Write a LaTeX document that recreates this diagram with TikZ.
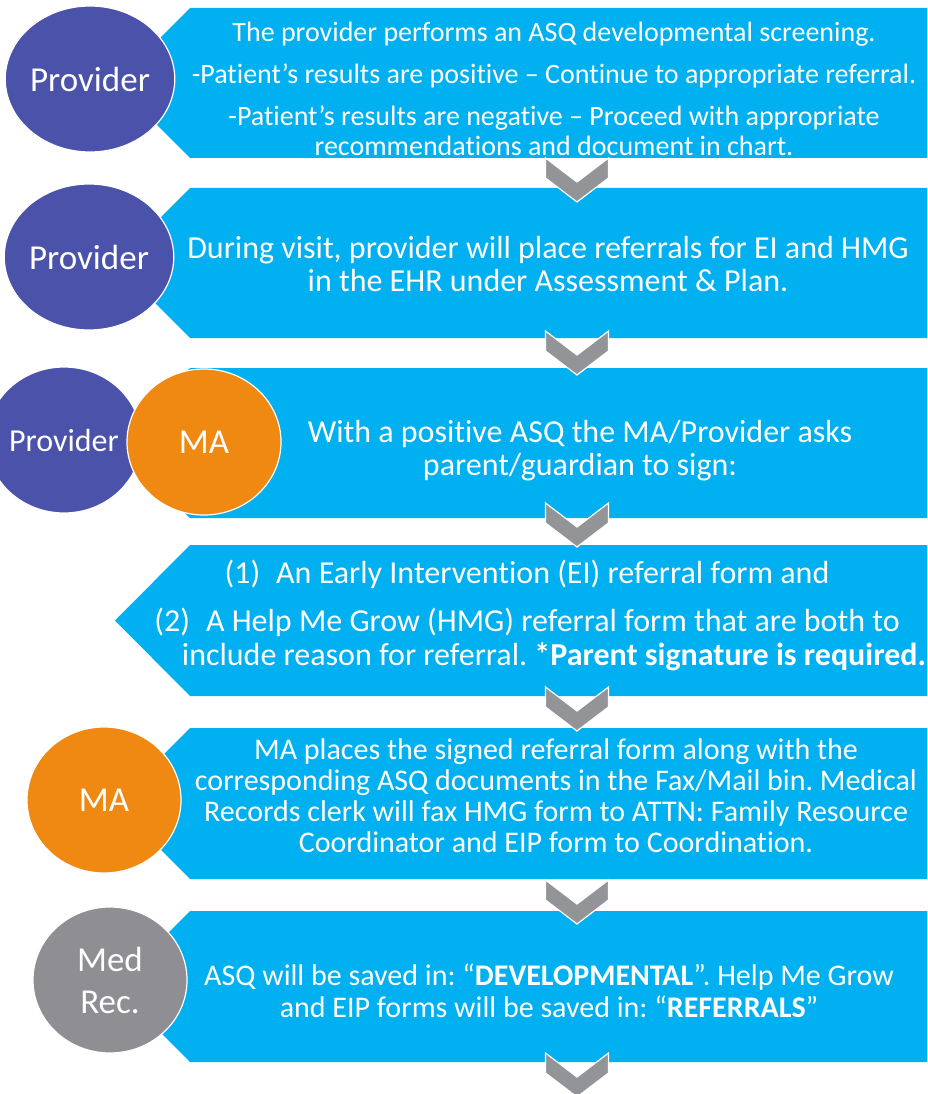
\documentclass[tikz,border=0pt]{standalone}
\usepackage{fontspec}
\setmainfont{Carlito}[Ligatures=NoCommon]
\usepackage{tikz}
\usetikzlibrary{shapes.geometric}
\frenchspacing
\definecolor{stepblue}{RGB}{0,176,240}
\definecolor{provider}{RGB}{74,82,170}
\definecolor{medassist}{RGB}{240,137,18}
\definecolor{medrec}{RGB}{143,142,147}
\definecolor{chevgray}{RGB}{147,148,152}
\newcommand{\band}[2]{\fill[stepblue] (190,#1)--(927,#1)--(927,#2)--(190,#2)--(115,{(#1+#2)/2})--cycle;}
\newcommand{\chevdown}[1]{\filldraw[fill=chevgray,draw=white,line width=1.2pt] (#1) ++(-31.5,0)--++(0,20)--++(31.5,24)--++(31.5,-24)--++(0,-20)--++(-31.5,24)--cycle;}
\tikzset{
  role/.style={ellipse,minimum width=154pt,minimum height=146pt,inner sep=0pt,draw=white,line width=1.2pt,text=white,align=center,font=\fontsize{35}{42}\selectfont},
  steptext/.style={text=white,align=center,inner sep=0pt,font=\fontsize{28}{30}\selectfont},
  bigtext/.style={steptext,font=\fontsize{32}{33}\selectfont},
  midtext/.style={steptext,font=\fontsize{30}{31}\selectfont}
}

\begin{document}
\begin{tikzpicture}[x=1pt,y=-1pt]
\useasboundingbox (0,0) rectangle (927,1094);
\band{8}{158}\band{188}{338}\band{368}{518}\band{545}{696}\band{728}{879}\band{911}{1062}
\foreach \y [count=\i] in {158,331,503,687,880,1053}{
  \coordinate (down\i) at (577,\y);
  \chevdown{down\i}
}
\node[role,fill=provider] (prov1) at (90,79) {Provider};
\node[role,fill=provider] (prov2) at (89,257) {Provider};
\node[role,fill=provider,font=\fontsize{32}{38}\selectfont] (prov3) at (64,440) {Provider};
\node[role,fill=medassist] (ma3) at (204,442) {MA};
\node[role,fill=medassist] (ma5) at (104,800) {MA};
\node[role,fill=medrec] (rec6) at (110,980) {Med\\Rec.};
\node[steptext] (txt1) at (554,89) {The provider performs an ASQ developmental screening.\\[12pt]
  -Patient’s results are positive – Continue to appropriate referral.\\[12pt]
  -Patient’s results are negative – Proceed with appropriate\\
  recommendations and document in chart.};
\node[bigtext] (txt2) at (548,264) {During visit, provider will place referrals for EI and HMG\\
  in the EHR under Assessment \& Plan.};
\node[bigtext] (txt3) at (580,451) {With a positive ASQ the MA/Provider asks\\
  parent/guardian to sign:};
\node[bigtext] (txt4) at (527,616) {(1)\enspace An Early Intervention (EI) referral form and\\[14pt]
  (2)\enspace A Help Me Grow (HMG) referral form that are both to\\[2pt]
  \hspace*{54pt}include reason for referral. \textbf{*Parent signature is required.}};
\node[midtext] (txt5) at (556,796) {MA places the signed referral form along with the\\
  corresponding ASQ documents in the Fax/Mail bin. Medical\\
  Records clerk will fax HMG form to ATTN: Family Resource\\
  Coordinator and EIP form to Coordination.};
\node[midtext,font=\fontsize{30}{32}\selectfont] (txt6) at (549,991) {ASQ will be saved in: “\textbf{DEVELOPMENTAL}”. Help Me Grow\\
  and EIP forms will be saved in: “\textbf{REFERRALS}”};
\end{tikzpicture}
\end{document}
